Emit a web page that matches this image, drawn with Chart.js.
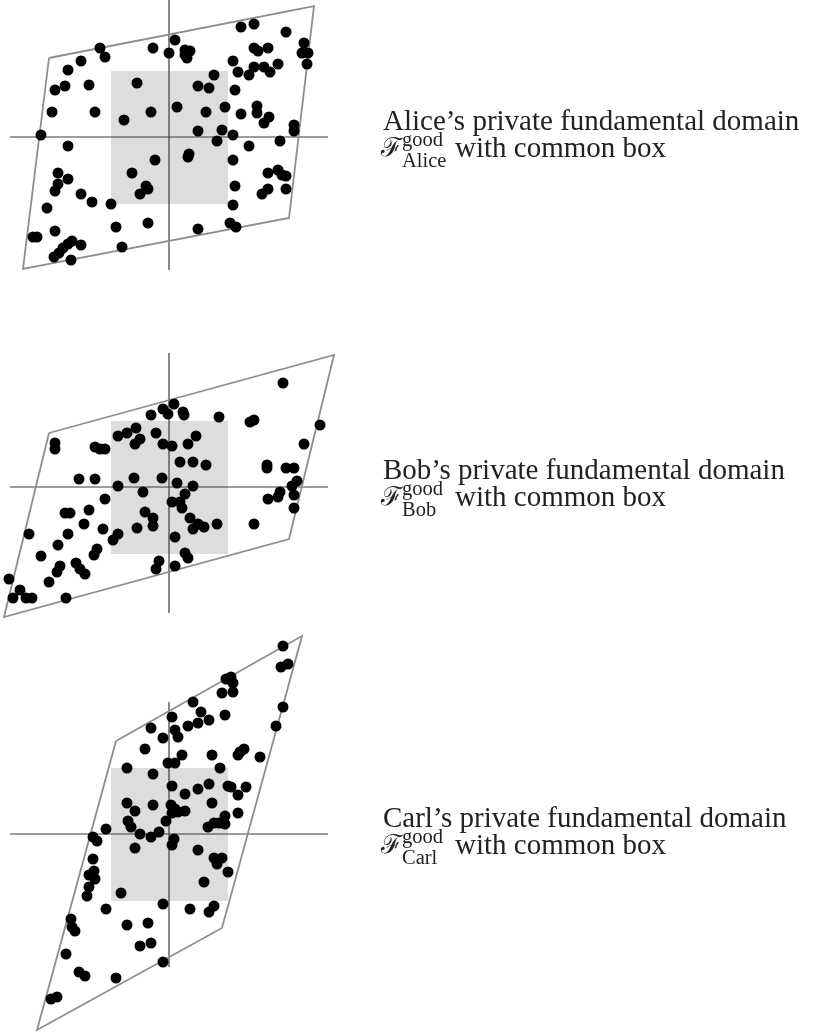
<!DOCTYPE html>
<html>
<head>
<meta charset="utf-8">
<script src="https://cdn.jsdelivr.net/npm/chart.js@4.4.1/dist/chart.umd.min.js"></script>
<style>
  html, body { margin: 0; padding: 0; background: #fff; }
  #page { position: relative; width: 813px; height: 1032px; overflow: hidden; }
  canvas { position: absolute; left: 0; }
  svg { position: absolute; left: 0; top: 0; }
  .main { font-family: "Liberation Serif", "DejaVu Serif", serif; font-size: 29px; fill: #222; }
  .small { font-family: "Liberation Serif", "DejaVu Serif", serif; font-size: 20.5px; fill: #222; }
  .scr { font-family: "DejaVu Serif", "Noto Sans", serif; font-size: 26px; fill: #222; }
</style>
</head>
<body>
<div id="page">
  <canvas id="cAlice" width="340" height="280" style="top:0px"></canvas>
  <canvas id="cBob" width="340" height="280" style="top:345px"></canvas>
  <canvas id="cCarl" width="340" height="402" style="top:630px"></canvas>
  <svg width="813" height="1032" id="labels"></svg>
</div>
<script>
// ---- Data (coordinates relative to the axis crossing of each panel) ----
const panelNames = ["Alice", "Bob", "Carl"];

const alicePoints = [
  [-69,89],[-64,80],[-16,89],[0,84],[-88,76],[-101,67],[-104,51],[-114,47],[-80,52],[-32,54],
  [-117,25],[-74,25],[-45,17],[-18,25],[-128,2],[-101,-9],[-14,-23],[-111,-36],[-101,-42],[-37,-36],
  [-111,-47],[-114,-54],[-23,-49],[-21,-52],[-29,-57],[-88,-57],[-77,-65],[-58,-67],[-122,-71],[-114,-94],
  [-53,-90],[-21,-86],[-136,-100],[-132,-100],[-97,-104],[-88,-108],[-101,-107],[-106,-111],[-110,-116],[-115,-120],
  [-98,-123],[-47,-110],
  [72,110],[85,113],[117,105],[6,97],[16,87],[21,86],[18,79],[16,82],[85,89],[89,86],
  [99,89],[135,94],[133,84],[139,84],[138,73],[64,76],[69,65],[80,62],[85,70],[95,70],
  [101,65],[109,73],[45,62],[29,51],[40,49],[66,47],[8,30],[37,25],[56,30],[72,23],
  [88,31],[88,24],[100,20],[95,14],[125,12],[125,6],[29,6],[53,7],[48,-4],[64,2],
  [80,-9],[111,-4],[20,-17],[19,-20],[64,-23],[99,-36],[109,-33],[113,-38],[117,-39],[66,-49],
  [99,-52],[93,-57],[117,-52],[64,-68],[61,-86],[67,-90],[29,-92]
];
const bobPoints = [
  [-6,78],[-18,72],[-33,59],[-42,54],[-51,51],[-13,54],[-29,48],[-34,43],[-6,43],[-114,44],
  [-114,38],[-74,40],[-69,38],[-64,38],[-90,8],[-74,8],[-51,1],[-35,9],[-7,9],[-26,-5],
  [-64,-12],[-104,-26],[-99,-26],[-80,-23],[-24,-25],[-16,-31],[-16,-39],[-85,-37],[-66,-42],[-32,-41],
  [-51,-47],[-56,-53],[-140,-47],[-101,-47],[-111,-58],[-72,-62],[-75,-68],[-128,-69],[-109,-79],[-112,-85],
  [-93,-76],[-89,-82],[-84,-87],[-10,-74],[-13,-82],[-120,-95],[-160,-92],[-149,-103],[-156,-111],[-143,-111],
  [-137,-111],[-103,-111],
  [114,104],[5,83],[-1,73],[14,75],[15,72],[50,70],[81,65],[85,67],[151,62],[27,51],
  [19,43],[3,41],[135,43],[11,25],[24,25],[37,22],[98,22],[98,19],[117,19],[125,19],
  [8,4],[24,1],[128,6],[123,1],[16,-7],[3,-15],[11,-15],[13,-21],[111,-5],[109,-10],
  [99,-12],[125,-8],[125,-21],[21,-31],[29,-37],[35,-40],[24,-42],[48,-37],[85,-37],[6,-50],
  [16,-66],[19,-71],[6,-79]
];
const carlPoints = [
  [-18,106],[-6,96],[-24,85],[-42,66],[-16,60],[-42,31],[-34,23],[-16,29],[-41,13],[-38,7],
  [-63,5],[-29,0],[-18,-3],[-10,2],[-3,13],[-76,-3],[-72,-7],[-34,-14],[-76,-25],[-75,-37],
  [-80,-41],[-74,-45],[-80,-53],[-82,-62],[-48,-59],[-63,-75],[-6,-70],[-98,-85],[-97,-93],[-94,-97],
  [-42,-91],[-21,-89],[-29,-112],[-18,-109],[-103,-120],[-90,-138],[-84,-142],[-53,-144],[-6,-128],[-118,-165],
  [-112,-163],
  [114,188],[112,167],[119,170],[57,155],[62,157],[64,151],[53,141],[64,142],[24,132],[3,117],
  [32,122],[29,111],[40,114],[56,119],[19,108],[6,104],[9,97],[114,127],[107,108],[13,79],
  [43,79],[71,82],[75,85],[69,79],[91,77],[-1,71],[6,71],[51,66],[3,48],[29,45],
  [16,40],[40,50],[59,48],[62,47],[77,47],[69,39],[43,31],[2,29],[6,25],[9,22],
  [16,23],[3,21],[69,21],[56,18],[39,7],[45,11],[50,11],[56,10],[5,-5],[3,-11],
  [29,-16],[45,-24],[53,-24],[48,-30],[59,-38],[35,-48],[21,-75],[40,-78],[45,-72]
];

// parallelogram vertices (private fundamental domains)
const aliceDomain = [[-120,79],[145,131],[120,-81],[-146,-132]];
const bobDomain   = [[-120,54],[165,132],[120,-52],[-165,-130]];
const carlDomain  = [[-53,93],[133,198],[53,-94],[-132,-196]];

// common box: [xMin, xMax, yMin, yMax]
const commonBox = [-58, 59, -67, 66];

// axis line extents: horizontal [xFrom, xTo], vertical [yTop, yBottom]
const hAxis = [-159, 159];
const aliceVAxis = [137, -133];
const bobVAxis   = [134, -126];
const carlVAxis  = [132, -133];

// view windows
const xView = [-169, 171];
const aliceYView = [-143, 137];
const bobYView   = [-138, 142];
const carlYView  = [-198, 204];

function xy(arr) { return arr.map(p => ({x: p[0], y: p[1]})); }

function makeChart(id, pts, domain, vAxis, yView) {
  const closed = domain.concat([domain[0]]);
  new Chart(document.getElementById(id), {
    type: 'line',
    data: {
      datasets: [
        { data: xy(pts), showLine: false, pointRadius: 5.5, pointHoverRadius: 5.5,
          pointBackgroundColor: '#000', pointBorderWidth: 0, borderWidth: 0, order: 0, clip: false },
        { data: xy(closed), borderColor: '#8e8e8e', borderWidth: 1.8, pointRadius: 0,
          fill: false, tension: 0, order: 1, clip: false },
        { data: xy([[hAxis[0],0],[hAxis[1],0]]), borderColor: '#3c3c3c', borderWidth: 1.2,
          pointRadius: 0, fill: false, order: 2, clip: false },
        { data: xy([[0,vAxis[0]],[0,vAxis[1]]]), borderColor: '#3c3c3c', borderWidth: 1.2,
          pointRadius: 0, fill: false, order: 2, clip: false },
        { data: xy([[commonBox[0],commonBox[3]],[commonBox[1],commonBox[3]]]),
          borderColor: 'rgba(0,0,0,0)', borderWidth: 0, pointRadius: 0,
          backgroundColor: '#dcdddf',
          fill: { target: { value: commonBox[2] }, above: '#dcdddf', below: '#dcdddf' },
          order: 3, clip: false }
      ]
    },
    options: {
      responsive: false,
      animation: false,
      devicePixelRatio: 1,
      events: [],
      layout: { padding: 0, autoPadding: false },
      plugins: { legend: { display: false }, tooltip: { enabled: false } },
      scales: {
        x: { type: 'linear', display: false, min: xView[0], max: xView[1] },
        y: { type: 'linear', display: false, min: yView[0], max: yView[1] }
      }
    }
  });
}

makeChart('cAlice', alicePoints, aliceDomain, aliceVAxis, aliceYView);
makeChart('cBob', bobPoints, bobDomain, bobVAxis, bobYView);
makeChart('cCarl', carlPoints, carlDomain, carlVAxis, carlYView);

// ---- Labels ----
const labelBaselines = [130, 479, 827];
const svg = document.getElementById('labels');
const NS = 'http://www.w3.org/2000/svg';
function txt(cls, x, y, s) {
  const t = document.createElementNS(NS, 'text');
  t.setAttribute('class', cls);
  t.setAttribute('x', x);
  t.setAttribute('y', y);
  t.textContent = s;
  svg.appendChild(t);
}
panelNames.forEach((name, i) => {
  const b = labelBaselines[i];
  txt('main', 383, b, name + '\u2019s private fundamental domain');
  txt('scr', 381, b + 26, '\u2131');
  txt('small', 402, b + 16, 'good');
  txt('small', 402, b + 37, name);
  txt('main', 455, b + 27, 'with common box');
});
</script>
</body>
</html>
